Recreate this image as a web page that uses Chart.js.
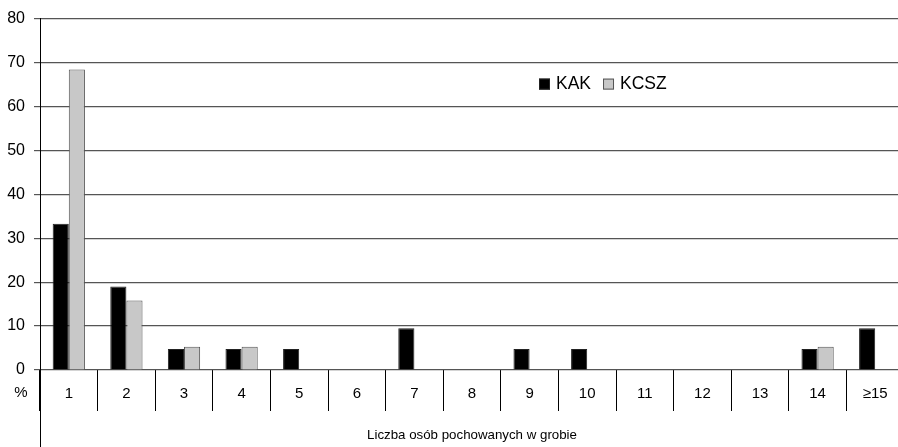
<!DOCTYPE html>
<html>
<head>
<meta charset="utf-8">
<script src="https://cdn.jsdelivr.net/npm/chart.js@4"></script>
<style>
  html, body { margin: 0; padding: 0; background: #fff; overflow: hidden; width: 898px; height: 447px; }
  #wrap { width: 904px; height: 447px; }
</style>
</head>
<body>
<div id="wrap"><canvas id="c" width="904" height="447"></canvas></div>
<script>
const categories = ['1','2','3','4','5','6','7','8','9','10','11','12','13','14','\u226515'];
const kakValues  = [33.3, 19.0, 4.8, 4.8, 4.8, 0, 9.5, 0, 4.8, 4.8, 0, 0, 0, 4.8, 9.5];
const kcszValues = [68.4, 15.8, 5.3, 5.3, 0, 0, 0, 0, 0, 0, 0, 0, 0, 5.3, 0];
const seriesNames = ['KAK', 'KCSZ'];
const yTicks = [0, 10, 20, 30, 40, 50, 60, 70, 80];
const xTitle = 'Liczba osób pochowanych w grobie';
const unitLabel = '%';

const FONT = "'Liberation Sans', Arial, sans-serif";

const extras = {
  id: 'extras',
  afterDraw(chart) {
    const ctx = chart.ctx;
    const a = chart.chartArea;
    ctx.save();
    // y axis extension below the plot
    ctx.strokeStyle = '#000';
    ctx.lineWidth = 1;
    ctx.beginPath();
    ctx.moveTo(a.left + 0.5, a.bottom);
    ctx.lineTo(a.left + 0.5, chart.height);
    ctx.stroke();
    // unit label
    ctx.fillStyle = '#000';
    ctx.font = '15px ' + FONT;
    ctx.textAlign = 'center';
    ctx.textBaseline = 'middle';
    ctx.fillText(unitLabel, a.left - 19, a.bottom + 23);
    // legend
    const ds = chart.data.datasets;
    let x = a.left + 499;
    const y = a.top + 60;
    ctx.font = '17.5px ' + FONT;
    ctx.textAlign = 'left';
    ctx.textBaseline = 'middle';
    ds.forEach((d, i) => {
      ctx.fillStyle = d.backgroundColor;
      ctx.fillRect(x, y, 11, 11);
      ctx.strokeStyle = d.borderColor;
      ctx.lineWidth = 1;
      ctx.strokeRect(x + 0.5, y + 0.5, 10, 10);
      ctx.fillStyle = '#000';
      ctx.fillText(d.label, x + 17, y + 6);
      x += 17 + ctx.measureText(d.label).width + 12;
    });
    ctx.restore();
  }
};

new Chart(document.getElementById('c'), {
  type: 'bar',
  data: {
    labels: categories,
    datasets: [
      { label: seriesNames[0], data: kakValues, backgroundColor: '#000000', borderColor: '#222222', borderWidth: 1 },
      { label: seriesNames[1], data: kcszValues, backgroundColor: '#c8c8c8', borderColor: '#555555', borderWidth: 1 }
    ]
  },
  options: {
    responsive: false,
    animation: false,
    devicePixelRatio: 1,
    layout: { padding: { top: 17, right: 0, bottom: 0, left: 0 } },
    datasets: { bar: { categoryPercentage: 0.56, barPercentage: 1.0 } },
    plugins: { legend: { display: false }, tooltip: { enabled: false } },
    scales: {
      x: {
        afterFit(s) { s.height = 77; },
        offset: true,
        grid: { offset: true, drawOnChartArea: false, drawTicks: true, tickLength: 41, color: '#000', lineWidth: 1 },
        border: { display: false },
        ticks: { autoSkip: false, maxRotation: 0, padding: -26, color: '#000', font: { family: FONT, size: 15 } },
        title: { display: true, text: xTitle, color: '#000', font: { family: FONT, size: 13.3 }, padding: { top: 4, bottom: 4 } }
      },
      y: {
        afterFit(s) { s.width = 40; },
        min: 0, max: 80,
        afterBuildTicks(s) { s.ticks = yTicks.map(v => ({ value: v })); },
        grid: { color: '#555', lineWidth: 1.2, tickLength: 6, drawTicks: true },
        border: { display: true, color: '#000', width: 1 },
        ticks: { padding: 9, color: '#000', font: { family: FONT, size: 16 } }
      }
    }
  },
  plugins: [extras]
});
</script>
</body>
</html>
